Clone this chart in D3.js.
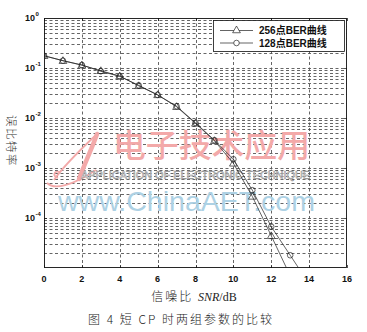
<!DOCTYPE html>
<html><head><meta charset="utf-8">
<script src="https://cdn.jsdelivr.net/npm/d3@7"></script>
<style>body{margin:0;background:#fff}svg{display:block}</style>
</head><body>
<svg id="c" width="367" height="332"></svg>
<script>
const snrValues = [0,1,2,3,4,5,6,7,8,9,10,11,12,13,14];
const ber256 = [0.176,0.14,0.114,0.088,0.069,0.044,0.029,0.0168,0.0078,0.0035,0.00124,0.00027,0.000044,0.000007];
const ber128 = [0.176,0.14,0.115,0.086,0.068,0.045,0.029,0.0172,0.008,0.0036,0.0015,0.00036,0.000067,0.000018,0.0000048];
const xTicks = [0,2,4,6,8,10,12,14,16];
const yExps = [0,-1,-2,-3,-4];
const legendLabels = ["256点BER曲线","128点BER曲线"];
const yLabel = "误比特率";
const caption = "图 4   短 CP 时两组参数的比较";

const svg = d3.select("#c");
const L=44, R=347, T=18, B=268;
const x = d3.scaleLinear().domain([0,16]).range([L,R]);
const y = d3.scaleLog().domain([1e-5,1]).range([B,T]);
const cr = v => Math.round(v)+0.5;

svg.append("defs").append("clipPath").attr("id","cp")
  .append("rect").attr("x",L).attr("y",T).attr("width",R-L).attr("height",B-T);

// grid
const g = svg.append("g").attr("stroke","#555").attr("stroke-width",0.9).attr("stroke-dasharray","3,2.5");
const minor=[];
for(let e=-5;e<0;e++) for(let m=2;m<=9;m++) minor.push(m*Math.pow(10,e));
const major=[1e-1,1e-2,1e-3,1e-4];
g.selectAll(".mn").data(minor.concat(major)).enter().append("line")
  .attr("x1",L).attr("x2",R).attr("y1",d=>cr(y(d))).attr("y2",d=>cr(y(d)));
g.selectAll(".vx").data(xTicks.filter(d=>d>0&&d<16)).enter().append("line")
  .attr("y1",T).attr("y2",B).attr("x1",d=>cr(x(d))).attr("x2",d=>cr(x(d)));

// watermarks
const wm = svg.append("g");
const red = "#f3a9a9";
wm.append("path").attr("d","M54,180 C62,168 80,150 97,134").attr("fill","none").attr("stroke",red).attr("stroke-width",1.8);
wm.append("path").attr("d","M97,134 C93,146 86,160 79,179").attr("fill","none").attr("stroke",red).attr("stroke-width",4.5).attr("stroke-linecap","round");
wm.append("path").attr("d","M47,183 C54,190 72,186 96,170 M60,172 C54,170 52,176 58,178").attr("fill","none").attr("stroke",red).attr("stroke-width",1.8);
wm.append("text").attr("x",113).attr("y",157).attr("font-family","Noto Sans CJK SC").attr("font-weight",500)
  .attr("font-size",32).attr("fill",red).attr("textLength",197).attr("lengthAdjust","spacingAndGlyphs")
  .text("电子技术应用");
wm.append("text").attr("x",81).attr("y",179).attr("font-family","Liberation Sans")
  .attr("font-size",10.5).attr("fill","#f4f4f4").attr("stroke","#8a8a8a").attr("stroke-width",0.5)
  .attr("textLength",229).attr("lengthAdjust","spacingAndGlyphs").text("APPLICATION OF ELECTRONIC TECHNIQUE");
wm.append("text").attr("x",58).attr("y",211).attr("font-family","Liberation Sans")
  .attr("font-size",28).attr("fill","#add1e4").attr("textLength",257).attr("lengthAdjust","spacingAndGlyphs")
  .text("www.ChinaAET.com");

// box
svg.append("rect").attr("x",L+0.5).attr("y",T+0.5).attr("width",R-L-1).attr("height",B-T-1)
  .attr("fill","none").attr("stroke","#111").attr("stroke-width",0.9);

// ticks
const tk = svg.append("g").attr("stroke","#111").attr("stroke-width",0.7);
xTicks.forEach(d=>{tk.append("line").attr("x1",cr(x(d))).attr("x2",cr(x(d))).attr("y1",B).attr("y2",B-3);
  tk.append("line").attr("x1",cr(x(d))).attr("x2",cr(x(d))).attr("y1",T).attr("y2",T+3);});
major.forEach(d=>{tk.append("line").attr("x1",L).attr("x2",L+3).attr("y1",cr(y(d))).attr("y2",cr(y(d)));
  tk.append("line").attr("x1",R).attr("x2",R-3).attr("y1",cr(y(d))).attr("y2",cr(y(d)));});

// tick labels
svg.append("g").selectAll("text").data(xTicks).enter().append("text")
  .attr("x",d=>x(d)).attr("y",282).attr("text-anchor","middle")
  .attr("font-family","Liberation Sans").attr("font-weight","bold").attr("font-size",9).attr("fill","#111")
  .text(d=>d);
svg.append("g").selectAll("text").data(yExps).enter().append("text")
  .attr("x",35).attr("y",d=>y(Math.pow(10,d))+3).attr("text-anchor","end")
  .attr("font-family","Liberation Sans").attr("font-weight","bold").attr("font-size",9).attr("fill","#111")
  .text("10");
svg.append("g").selectAll("text").data(yExps).enter().append("text")
  .attr("x",35.5).attr("y",d=>y(Math.pow(10,d))-2).attr("text-anchor","start")
  .attr("font-family","Liberation Sans").attr("font-weight","bold").attr("font-size",6).attr("fill","#111")
  .text(d=>d===0?"0":"-"+Math.abs(d));

// data
const plot = svg.append("g").attr("clip-path","url(#cp)");
const line = d3.line().x(d=>x(d[0])).y(d=>y(d[1]));
const d256 = ber256.map((v,i)=>[snrValues[i],v]);
const d128 = ber128.map((v,i)=>[snrValues[i],v]);
[d256,d128].forEach(ds=>plot.append("path").datum(ds).attr("d",line)
  .attr("fill","none").attr("stroke","#222").attr("stroke-width",0.7));
const tri = d3.symbol().type(d3.symbolTriangle).size(26);
plot.selectAll(".t").data(d256).enter().append("path").attr("d",tri)
  .attr("transform",d=>`translate(${x(d[0])},${y(d[1])+0.5})`)
  .attr("fill","none").attr("stroke","#222").attr("stroke-width",0.7);
plot.selectAll(".o").data(d128).enter().append("circle")
  .attr("cx",d=>x(d[0])).attr("cy",d=>y(d[1])).attr("r",2.8)
  .attr("fill","none").attr("stroke","#222").attr("stroke-width",0.7);

// legend
const lg = svg.append("g");
lg.append("rect").attr("x",213.5).attr("y",20.5).attr("width",131).attr("height",31)
  .attr("fill","#fff").attr("stroke","#111").attr("stroke-width",0.8);
legendLabels.forEach((t,i)=>{
  const yy = 30.5+i*12.5;
  lg.append("line").attr("x1",220).attr("x2",253).attr("y1",yy).attr("y2",yy).attr("stroke","#222").attr("stroke-width",0.7);
  if(i===0) lg.append("path").attr("d",tri).attr("transform",`translate(236.5,${yy})`).attr("fill","#fff").attr("stroke","#222").attr("stroke-width",0.7);
  else lg.append("circle").attr("cx",236.5).attr("cy",yy).attr("r",2.8).attr("fill","#fff").attr("stroke","#222").attr("stroke-width",0.7);
  lg.append("text").attr("x",259).attr("y",yy+3.5).attr("font-family","Liberation Sans, Noto Sans CJK SC")
    .attr("font-weight","bold").attr("font-size",10).attr("fill","#111").text(t);
});

// axis labels
const xl = svg.append("text").attr("x",194).attr("y",301).attr("text-anchor","middle")
  .attr("font-size",12).attr("fill","#222");
xl.append("tspan").attr("font-family","Noto Sans CJK SC").attr("font-weight",300).attr("letter-spacing",2).text("信噪比 ");
xl.append("tspan").attr("font-family","Liberation Serif").attr("font-style","italic").text("SNR");
xl.append("tspan").attr("font-family","Liberation Serif").text("/dB");

svg.append("text").attr("transform","translate(7,141) rotate(90)").attr("text-anchor","middle")
  .attr("font-family","Noto Sans CJK SC").attr("font-weight",300).attr("font-size",11.5).attr("letter-spacing",1.5)
  .attr("fill","#333").text(yLabel);

svg.append("text").attr("x",181).attr("y",324).attr("text-anchor","middle")
  .attr("font-family","Noto Sans CJK SC").attr("font-weight",300).attr("font-size",12)
  .attr("letter-spacing",2).attr("fill","#222").text(caption);
</script>
</body></html>
